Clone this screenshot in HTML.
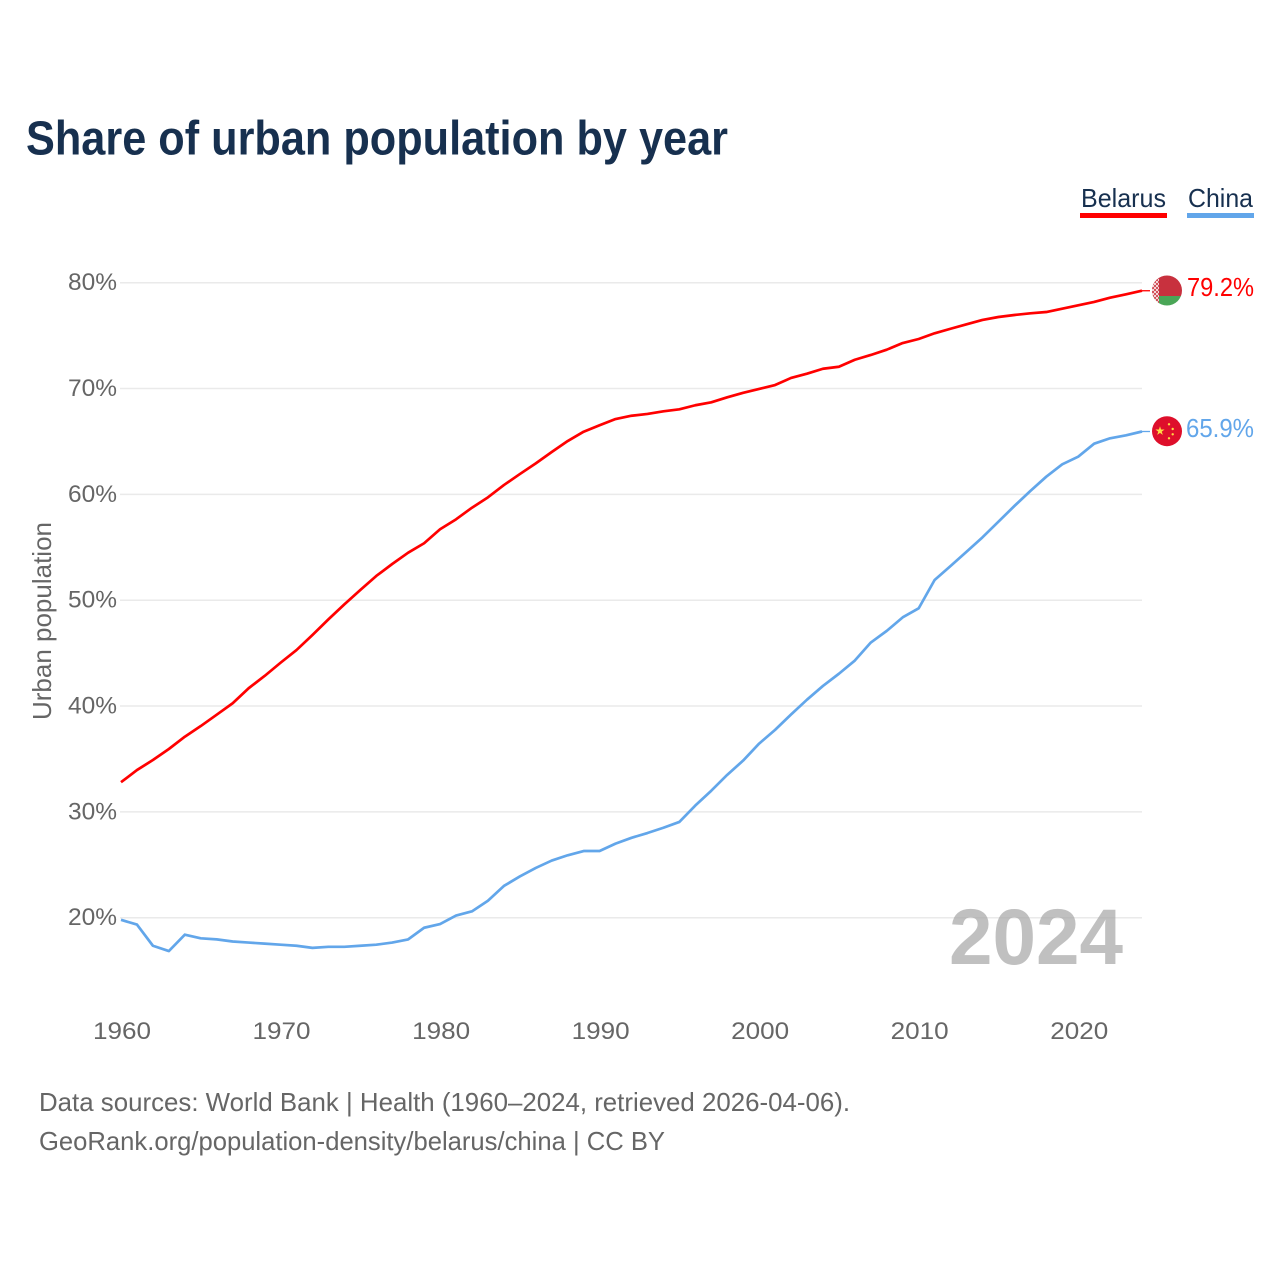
<!DOCTYPE html>
<html lang="en">
<head>
<meta charset="utf-8">
<title>Share of urban population by year</title>
<style>
html,body{margin:0;padding:0;background:#fff}
svg{display:block}
text{font-family:"Liberation Sans",sans-serif}
</style>
</head>
<body>
<svg id="chart" xmlns="http://www.w3.org/2000/svg" width="1280" height="1280" viewBox="0 0 1280 1280">
  <defs>
    <clipPath id="flag-clip-by"><circle cx="1167" cy="290.5" r="15"/></clipPath>
    <clipPath id="flag-clip-cn"><circle cx="1167" cy="431.2" r="15"/></clipPath>
    <pattern id="by-ornament" width="4" height="4" patternUnits="userSpaceOnUse" x="1152" y="275">
      <rect width="4" height="4" fill="#f3d6d8"/>
      <rect x="0" y="0" width="2" height="2" fill="#d2525c"/>
      <rect x="2" y="2" width="2" height="2" fill="#d2525c"/>
    </pattern>
  </defs>
  <rect width="1280" height="1280" fill="#ffffff"/>
  <text x="26" y="154.5" font-size="48" font-weight="700" fill="#17304f" textLength="702" lengthAdjust="spacingAndGlyphs">Share of urban population by year</text>

  <g>
    <g>
      <text x="1081" y="207" font-size="26" fill="#17304f" textLength="85" lengthAdjust="spacingAndGlyphs">Belarus</text>
      <rect x="1080" y="213" width="87" height="5" fill="#ff0000"/>
    </g>
    <g>
      <text x="1188" y="207" font-size="26" fill="#17304f" textLength="65" lengthAdjust="spacingAndGlyphs">China</text>
      <rect x="1187" y="213" width="67" height="5" fill="#62a6ea"/>
    </g>
  </g>

  <g id="grid"></g>
  <g id="y-axis"></g>
  <g id="x-axis"></g>
  <text transform="translate(51,621) rotate(-90)" text-anchor="middle" font-size="26" fill="#666666" textLength="198" lengthAdjust="spacingAndGlyphs">Urban population</text>

  <text x="949" y="964" font-size="79" font-weight="700" fill="#a8a8a8" fill-opacity="0.72" textLength="174" lengthAdjust="spacingAndGlyphs">2024</text>

  <g id="series"></g>

  <g clip-path="url(#flag-clip-by)">
    <rect x="1152" y="275" width="30" height="21" fill="#c8313e"/>
    <rect x="1152" y="296" width="30" height="10" fill="#4aa657"/>
    <rect x="1152" y="275" width="7" height="31" fill="url(#by-ornament)"/>
  </g>
  <g clip-path="url(#flag-clip-cn)">
    <rect x="1152" y="416" width="30" height="31" fill="#de0f2b"/>
    <polygon points="1160,426.2 1161.09,429.5 1164.57,429.52 1161.76,431.57 1162.82,434.88 1160,432.85 1157.18,434.88 1158.24,431.57 1155.43,429.52 1158.91,429.5" fill="#ffda44"/>
    <circle cx="1169" cy="424.3" r="1.2" fill="#ffda44"/>
    <circle cx="1172.7" cy="429" r="1.2" fill="#ffda44"/>
    <circle cx="1172.7" cy="434.3" r="1.2" fill="#ffda44"/>
    <circle cx="1169" cy="438.3" r="1.2" fill="#ffda44"/>
  </g>

  <text id="value-by" x="1187" y="296" font-size="26" fill="#ff0000" textLength="67" lengthAdjust="spacingAndGlyphs"></text>
  <text id="value-cn" x="1186" y="437" font-size="26" fill="#62a6ea" textLength="68" lengthAdjust="spacingAndGlyphs"></text>

  <text x="39" y="1111" font-size="26" fill="#666666" textLength="811" lengthAdjust="spacingAndGlyphs">Data sources: World Bank | Health (1960–2024, retrieved 2026-04-06).</text>
  <text x="39" y="1150" font-size="26" fill="#666666" textLength="626" lengthAdjust="spacingAndGlyphs">GeoRank.org/population-density/belarus/china | CC BY</text>
</svg>

<script>
const startYear = 1960;
const belarusValues = [32.8,33.95,34.9,35.94,37.1,38.11,39.18,40.26,41.68,42.84,44.09,45.29,46.71,48.19,49.61,50.96,52.29,53.42,54.49,55.38,56.7,57.64,58.74,59.72,60.88,61.92,62.93,64.0,65.04,65.92,66.53,67.12,67.43,67.6,67.85,68.04,68.42,68.7,69.17,69.6,69.96,70.33,71.0,71.4,71.87,72.06,72.72,73.17,73.67,74.3,74.68,75.22,75.65,76.07,76.48,76.76,76.95,77.11,77.23,77.54,77.86,78.18,78.58,78.9,79.24];
const chinaValues = [19.8,19.35,17.35,16.85,18.4,18.05,17.95,17.75,17.65,17.55,17.45,17.35,17.15,17.25,17.25,17.35,17.45,17.65,17.95,19.05,19.4,20.2,20.6,21.6,23.0,23.9,24.7,25.4,25.9,26.3,26.3,27.0,27.55,28.0,28.5,29.05,30.6,32.0,33.5,34.85,36.45,37.75,39.2,40.6,41.9,43.05,44.3,46.0,47.1,48.38,49.23,51.91,53.23,54.58,55.94,57.42,58.9,60.32,61.67,62.84,63.56,64.79,65.3,65.58,65.94];
const yTicks = [20,30,40,50,60,70,80];
const xTicks = [1960,1970,1980,1990,2000,2010,2020];

const NS = 'http://www.w3.org/2000/svg';
function xScale(year){ return 121 + (year - 1960) * (1142 - 121) / 64; }
function yScale(v){ return 917.7 + (v - 20) * (282.7 - 917.7) / 60; }

const gridG = document.getElementById('grid');
const yG = document.getElementById('y-axis');
const xG = document.getElementById('x-axis');
const seriesG = document.getElementById('series');

yTicks.forEach(function(t){
  const line = document.createElementNS(NS,'line');
  
  
  line.setAttribute('x1', 120);
  line.setAttribute('x2', 1142);
  line.setAttribute('y1', yScale(t));
  line.setAttribute('y2', yScale(t));
  line.setAttribute('stroke', '#eaeaea');
  line.setAttribute('stroke-width', '1.5');
  gridG.appendChild(line);
  const label = document.createElementNS(NS,'text');
  
  
  label.setAttribute('x', 68);
  label.setAttribute('y', yScale(t) + 7.5);
  label.setAttribute('font-size', '24');
  label.setAttribute('fill', '#666666');
  label.setAttribute('textLength', '49');
  label.setAttribute('lengthAdjust', 'spacingAndGlyphs');
  label.textContent = t + '%';
  yG.appendChild(label);
});

xTicks.forEach(function(t){
  const label = document.createElementNS(NS,'text');
  
  
  label.setAttribute('x', xScale(t) + 1);
  label.setAttribute('y', 1039);
  label.setAttribute('text-anchor', 'middle');
  label.setAttribute('font-size', '24');
  label.setAttribute('fill', '#666666');
  label.setAttribute('textLength', '58');
  label.setAttribute('lengthAdjust', 'spacingAndGlyphs');
  label.textContent = t;
  xG.appendChild(label);
});

function pathFor(values){
  return values.map(function(v,i){
    return (i ? 'L' : 'M') + xScale(startYear + i).toFixed(2) + ' ' + yScale(v).toFixed(2);
  }).join(' ');
}

const belarusLine = document.createElementNS(NS,'path');


belarusLine.setAttribute('d', pathFor(belarusValues));
belarusLine.setAttribute('fill', 'none');
belarusLine.setAttribute('stroke', '#ff0000');
belarusLine.setAttribute('stroke-width', '2.7');
belarusLine.setAttribute('stroke-linejoin', 'round');
seriesG.appendChild(belarusLine);

const chinaLine = document.createElementNS(NS,'path');


chinaLine.setAttribute('d', pathFor(chinaValues));
chinaLine.setAttribute('fill', 'none');
chinaLine.setAttribute('stroke', '#62a6ea');
chinaLine.setAttribute('stroke-width', '2.7');
chinaLine.setAttribute('stroke-linejoin', 'round');
seriesG.appendChild(chinaLine);

const lastBy = belarusValues[belarusValues.length - 1];
const lastCn = chinaValues[chinaValues.length - 1];

const connBy = document.createElementNS(NS,'line');


connBy.setAttribute('x1', xScale(2024));
connBy.setAttribute('x2', 1150);
connBy.setAttribute('y1', yScale(lastBy));
connBy.setAttribute('y2', yScale(lastBy));
connBy.setAttribute('stroke', '#ff0000');
connBy.setAttribute('stroke-width', '1.3');
seriesG.appendChild(connBy);

const connCn = document.createElementNS(NS,'line');


connCn.setAttribute('x1', xScale(2024));
connCn.setAttribute('x2', 1150);
connCn.setAttribute('y1', yScale(lastCn));
connCn.setAttribute('y2', yScale(lastCn));
connCn.setAttribute('stroke', '#62a6ea');
connCn.setAttribute('stroke-width', '1.3');
seriesG.appendChild(connCn);

document.getElementById('value-by').textContent = lastBy.toFixed(1) + '%';
document.getElementById('value-cn').textContent = lastCn.toFixed(1) + '%';
</script>
</body>
</html>
